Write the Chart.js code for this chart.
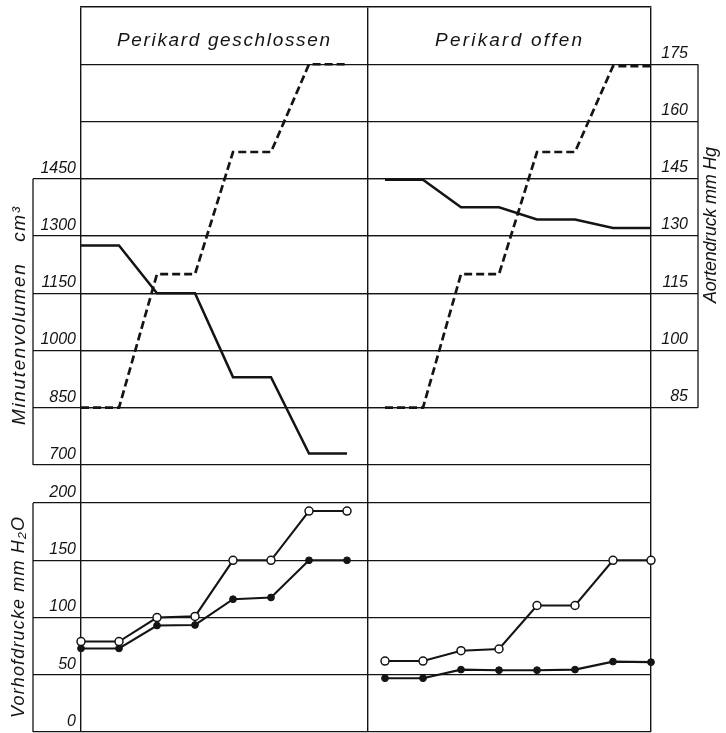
<!DOCTYPE html>
<html>
<head>
<meta charset="utf-8">
<script src="https://cdn.jsdelivr.net/npm/chart.js@4.4.1/dist/chart.umd.min.js"></script>
<style>
  html, body { margin: 0; padding: 0; background: #fff; }
  #c { display: block; }
</style>
</head>
<body>
<canvas id="c" width="726" height="733"></canvas>
<script>
// ---------------- data ----------------
const panelTitles = ['Perikard geschlossen', 'Perikard offen'];
const stepsClosed = [0, 1, 2, 3, 4, 5, 6, 7];
const stepsOpen = [8, 9, 10, 11, 12, 13, 14, 15];
const panelBounds = [0, 7.55, 15];

const minutenvolumenClosed = [1275, 1275, 1150, 1150, 930, 930, 730, 730];
const minutenvolumenOpen = [1447, 1447, 1375, 1375, 1343, 1343, 1321, 1321];
const aortendruckClosed = [85, 85, 120, 120, 152, 152, 175, 175];
const aortendruckOpen = [85, 85, 120, 120, 152, 152, 174.5, 174.5];
const vorhofHellClosed = [79, 79, 100, 101, 150, 150, 193, 193];
const vorhofDunkelClosed = [73, 73, 93, 93.5, 116, 117.5, 150, 150];
const vorhofHellOpen = [62, 62, 71, 72.5, 110.5, 110.5, 150, 150];
const vorhofDunkelOpen = [47, 47, 54.5, 54, 54, 54.5, 61.5, 61];

const minutenvolumenTicks = [700, 850, 1000, 1150, 1300, 1450];
const aortendruckTicks = [85, 100, 115, 130, 145, 160, 175];
const vorhofTicks = [0, 50, 100, 150, 200];

const titleMV = 'Minutenvolumen   cm³';
const titleAD = 'Aortendruck mm Hg';
const titleVD = 'Vorhofdrucke mm H₂O';

// ---------------- style / layout ----------------
const ink = '#141414';
const fam = "'Liberation Sans', Arial, sans-serif";
const tickFont = { family: fam, size: 16, style: 'italic' };
const LEFT_W = 81, RIGHT_W = 37, LEFT_TICK = 48, RIGHT_TICK = 47;

const pts = (xs, ys) => xs.map((x, i) => ({ x, y: ys[i] }));
const setTicks = (arr) => (s) => { s.ticks = arr.map(v => ({ value: v })); };
const fitBox = (w, h) => (s) => {
  if (w !== null) s.width = w;
  if (h !== null) s.height = h;
  s.paddingTop = 0; s.paddingBottom = 0; s.paddingLeft = 0; s.paddingRight = 0;
};

function lineDs(xs, ys, axis, extra) {
  return Object.assign({
    data: pts(xs, ys), yAxisID: axis, borderColor: ink, borderWidth: 2.5,
    pointRadius: 0, tension: 0, clip: false, fill: false
  }, extra);
}
const openPt = { borderWidth: 2.1, pointRadius: 4, pointBackgroundColor: '#fff', pointBorderColor: ink, pointBorderWidth: 1.5 };
const darkPt = { borderWidth: 2.1, pointRadius: 3.4, pointBackgroundColor: ink, pointBorderColor: ink, pointBorderWidth: 1 };
const dashed = { borderDash: [8, 4], borderWidth: 2.7 };

const datasets = [
  lineDs(stepsClosed, vorhofHellClosed, 'yVD', openPt),
  lineDs(stepsOpen, vorhofHellOpen, 'yVD', openPt),
  lineDs(stepsClosed, vorhofDunkelClosed, 'yVD', darkPt),
  lineDs(stepsOpen, vorhofDunkelOpen, 'yVD', darkPt),
  lineDs(stepsClosed, minutenvolumenClosed, 'yMV', {}),
  lineDs(stepsOpen, minutenvolumenOpen, 'yMV', {}),
  lineDs(stepsClosed, aortendruckClosed, 'yAD', dashed),
  lineDs(stepsOpen, aortendruckOpen, 'yAD', dashed)
];

function yAxis(pos, max, ticksArr, width, tickLen, extra) {
  return Object.assign({
    type: 'linear', position: pos, min: 0, max: max,
    afterBuildTicks: setTicks(ticksArr),
    afterFit: fitBox(width, null),
    ticks: { font: tickFont, color: ink, padding: -43, labelOffset: -10.5, callback: (v) => String(v) },
    grid: { color: ink, lineWidth: 1.2, tickLength: tickLen, tickColor: ink, tickWidth: 1.2 },
    border: { display: false }
  }, extra);
}

// draw VD axis in the same column as MV axis
const stackLeft = {
  id: 'stackLeft',
  afterLayout(chart) {
    const mv = chart.scales.yMV, vd = chart.scales.yVD;
    vd.left = mv.left; vd.right = mv.right; vd.width = mv.width;
  }
};

function drawFitted(ctx, text, x, y, length, rotate, size) {
  ctx.save();
  ctx.font = 'italic ' + size + 'px ' + fam;
  ctx.fillStyle = ink;
  ctx.letterSpacing = '0px';
  const w = ctx.measureText(text).width;
  const n = Array.from(text).length;
  const sp = n > 1 ? (length - w) / (n - 1) : 0;
  ctx.letterSpacing = sp.toFixed(2) + 'px';
  ctx.translate(x, y);
  if (rotate) ctx.rotate(-Math.PI / 2);
  ctx.textAlign = 'left';
  ctx.textBaseline = 'alphabetic';
  ctx.fillText(text, 0, 0);
  ctx.restore();
}

const frame = {
  id: 'frame',
  afterDraw(chart) {
    const { ctx, chartArea: a, scales } = chart;
    const mv = scales.yMV, vd = scales.yVD, ad = scales.yAD;
    ctx.save();
    ctx.strokeStyle = ink;
    ctx.lineWidth = 1.3;
    const xl = a.left - LEFT_TICK, xr = a.right + RIGHT_TICK;
    ctx.beginPath();
    ctx.moveTo(xl, mv.getPixelForValue(minutenvolumenTicks[minutenvolumenTicks.length - 1]));
    ctx.lineTo(xl, mv.getPixelForValue(minutenvolumenTicks[0]));
    ctx.moveTo(xl, vd.getPixelForValue(vorhofTicks[vorhofTicks.length - 1]));
    ctx.lineTo(xl, vd.getPixelForValue(vorhofTicks[0]));
    ctx.moveTo(xr, ad.getPixelForValue(aortendruckTicks[aortendruckTicks.length - 1]));
    ctx.lineTo(xr, ad.getPixelForValue(aortendruckTicks[0]));
    ctx.stroke();
    ctx.restore();

    drawFitted(ctx, panelTitles[0], 117, 46, 213, false, 19);
    drawFitted(ctx, panelTitles[1], 435, 46, 147, false, 19);
    drawFitted(ctx, titleMV, 24.5, 425, 218, true, 19);
    drawFitted(ctx, titleAD, 716, 303, 156, true, 18);
    drawFitted(ctx, titleVD, 23.5, 718, 201, true, 18);
  }
};

new Chart(document.getElementById('c'), {
  type: 'line',
  data: { datasets },
  plugins: [stackLeft, frame],
  options: {
    responsive: false,
    animation: false,
    events: [],
    layout: { autoPadding: false, padding: { left: 0, top: 7, right: 726 - 651 - RIGHT_W, bottom: 1 } },
    plugins: { legend: { display: false }, tooltip: { enabled: false }, title: { display: false } },
    scales: {
      x: {
        type: 'linear', position: 'top', min: 0, max: 15,
        afterBuildTicks: setTicks(panelBounds),
        afterFit: fitBox(null, 0),
        ticks: { display: false },
        grid: { color: ink, lineWidth: 1.4, drawTicks: false },
        border: { display: true, color: ink, width: 1.4 }
      },
      yMV: yAxis('left', 1900, minutenvolumenTicks, LEFT_W, LEFT_TICK, { weight: 0 }),
      yVD: yAxis('left', 1900 / 3, vorhofTicks, 0, LEFT_TICK, { weight: 1 }),
      yAD: yAxis('right', 190, aortendruckTicks, RIGHT_W, RIGHT_TICK, {
        ticks: { font: tickFont, color: ink, padding: 0, labelOffset: -11, crossAlign: 'far', callback: (v) => String(v) }
      })
    }
  }
});
</script>
</body>
</html>
